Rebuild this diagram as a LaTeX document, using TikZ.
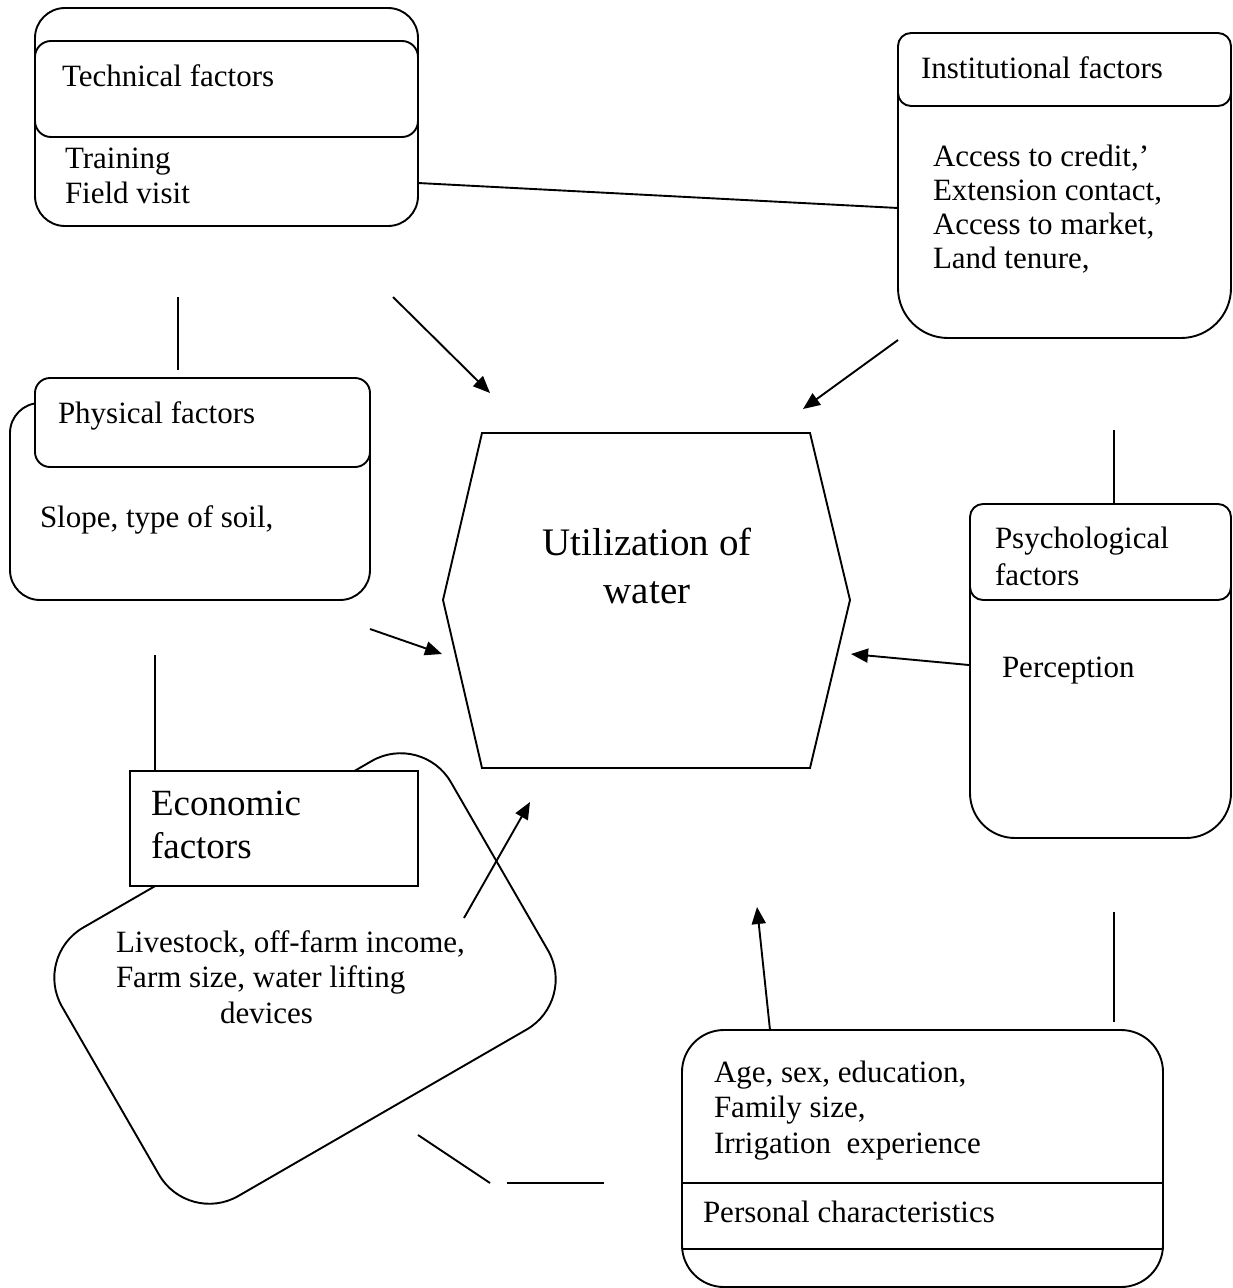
\documentclass[tikz,border=0pt]{standalone}
\usepackage{fontspec}
\setmainfont{Liberation Serif}
\usetikzlibrary{arrows.meta}
\begin{document}
\begin{tikzpicture}[x=1pt,y=-1pt,
  lw/.style={line width=1.9pt},
  shell/.style={draw, lw, fill=white, inner sep=0pt, outer sep=0pt},
  txt/.style={inner sep=0pt, outer sep=0pt, anchor=base west, align=left, font=\fontsize{31}{35}\selectfont},
  conn/.style={lw},
  arr/.style={lw, -{Triangle[length=17pt,width=14pt]}},
]
\path[fill=white, use as bounding box] (0,0) rectangle (1233,1288);

% ---------- Technical factors
\node[shell, rounded corners=30pt, minimum width=383pt, minimum height=218pt] (techbox) at (226.5,117) {};
\node[shell, rounded corners=16pt, minimum width=383pt, minimum height=96pt] (techhead) at (226.5,89) {};
\node[txt] (techT) at (62,86) {Technical factors};
\node[txt] (techB) at (65,203) {Training\\Field visit};

% ---------- Institutional factors
\node[shell, rounded corners=50pt, minimum width=333pt, minimum height=305pt] (instbox) at (1064.5,185.5) {};
\node[shell, rounded corners=13pt, minimum width=333pt, minimum height=73pt] (insthead) at (1064.5,69.5) {};
\node[txt] (instT) at (921,78) {Institutional factors};
\node[txt, font=\fontsize{31}{34}\selectfont] (instB) at (933,268) {Access to credit,'\\Extension contact,\\Access to market,\\Land tenure,};

% ---------- Physical factors
\node[shell, rounded corners=30pt, minimum width=360pt, minimum height=197pt] (physbox) at (190,501.5) {};
\node[shell, rounded corners=15pt, minimum width=335pt, minimum height=89pt] (physhead) at (202.5,422.5) {};
\node[txt] (physT) at (58,423) {Physical factors};
\node[txt] (physB) at (40,527) {Slope, type of soil,};

% ---------- Psychological factors
\node[shell, rounded corners=45pt, minimum width=261pt, minimum height=334pt] (psybox) at (1100.5,671) {};
\node[shell, rounded corners=13pt, minimum width=261pt, minimum height=96pt] (psyhead) at (1100.5,552) {};
\node[txt, font=\fontsize{31}{37}\selectfont] (psyT) at (995,585) {Psychological\\factors};
\node[txt] (psyB) at (1002,677) {Perception};

% ---------- Utilization of water (hexagon)
\draw[lw] (482,433) -- (810,433) -- (850,600) -- (810,768) -- (482,768) -- (443,600) -- cycle;
\node[inner sep=0pt, anchor=base, align=center, font=\fontsize{39}{48}\selectfont] (util) at (647,603) {Utilization of\\water};

% ---------- Economic factors
\node[shell, rounded corners=58pt, minimum width=449pt, minimum height=310pt, rotate=30] (econbg) at (305,978.5) {};
\node[shell, minimum width=288pt, minimum height=115pt] (econbox) at (274,828.5) {};
\node[txt, font=\fontsize{37}{43}\selectfont] (econT) at (151,858) {Economic\\factors};
\node[txt, font=\fontsize{31}{35.5}\selectfont] (econB) at (116,1023) {Livestock, off-farm income,\\Farm size, water lifting\\\hspace*{104pt}devices};

% ---------- Personal characteristics
\node[shell, rounded corners=42pt, minimum width=481pt, minimum height=257pt] (persbox) at (922.5,1158.5) {};
\draw[lw] (persbox.west |- 0,1183) -- (persbox.east |- 0,1183);
\draw[lw] (persbox.west |- 0,1249) -- (persbox.east |- 0,1249);
\node[txt, font=\fontsize{31}{35.5}\selectfont] (persB) at (714,1153) {Age, sex, education,\\Family size,\\Irrigation\ \ experience};
\node[txt] (persT) at (703,1222) {Personal characteristics};

% ---------- connector end points
\coordinate (techR) at (418,183);
\coordinate (instL) at (898,208);
\coordinate (techD) at (178,297);
\coordinate (physU) at (178,370);
\coordinate (physD) at (155,655);
\coordinate (econU) at (155,770);
\coordinate (instD) at (1114,430);
\coordinate (psyU) at (1114,504);
\coordinate (psyD) at (1114,912);
\coordinate (persU) at (1114,1022);
\coordinate (econR) at (418,1135);
\coordinate (gapA) at (490,1183);
\coordinate (gapB) at (507,1183);
\coordinate (persL) at (604,1183);

\coordinate (techA) at (393,297);
\coordinate (hexTL) at (490,393);
\coordinate (instA) at (898,340);
\coordinate (hexTR) at (803,409);
\coordinate (physA) at (370,629);
\coordinate (hexL) at (442,654);
\coordinate (psyA) at (969,665);
\coordinate (hexR) at (851,654);
\coordinate (persA) at (770,1030);
\coordinate (hexB) at (757,907);
\coordinate (econA) at (464,918);
\coordinate (hexBL) at (530,802);

% ---------- plain connectors
\draw[conn] (techR) -- (instL);
\draw[conn] (techD) -- (physU);
\draw[conn] (physD) -- (econU);
\draw[conn] (instD) -- (psyU);
\draw[conn] (psyD) -- (persU);
\draw[conn] (econR) -- (gapA);
\draw[conn] (gapB) -- (persL);

% ---------- arrows
\draw[arr] (techA) -- (hexTL);
\draw[arr] (instA) -- (hexTR);
\draw[arr] (physA) -- (hexL);
\draw[arr] (psyA) -- (hexR);
\draw[arr] (persA) -- (hexB);
\draw[arr] (econA) -- (hexBL);
\end{tikzpicture}
\end{document}
